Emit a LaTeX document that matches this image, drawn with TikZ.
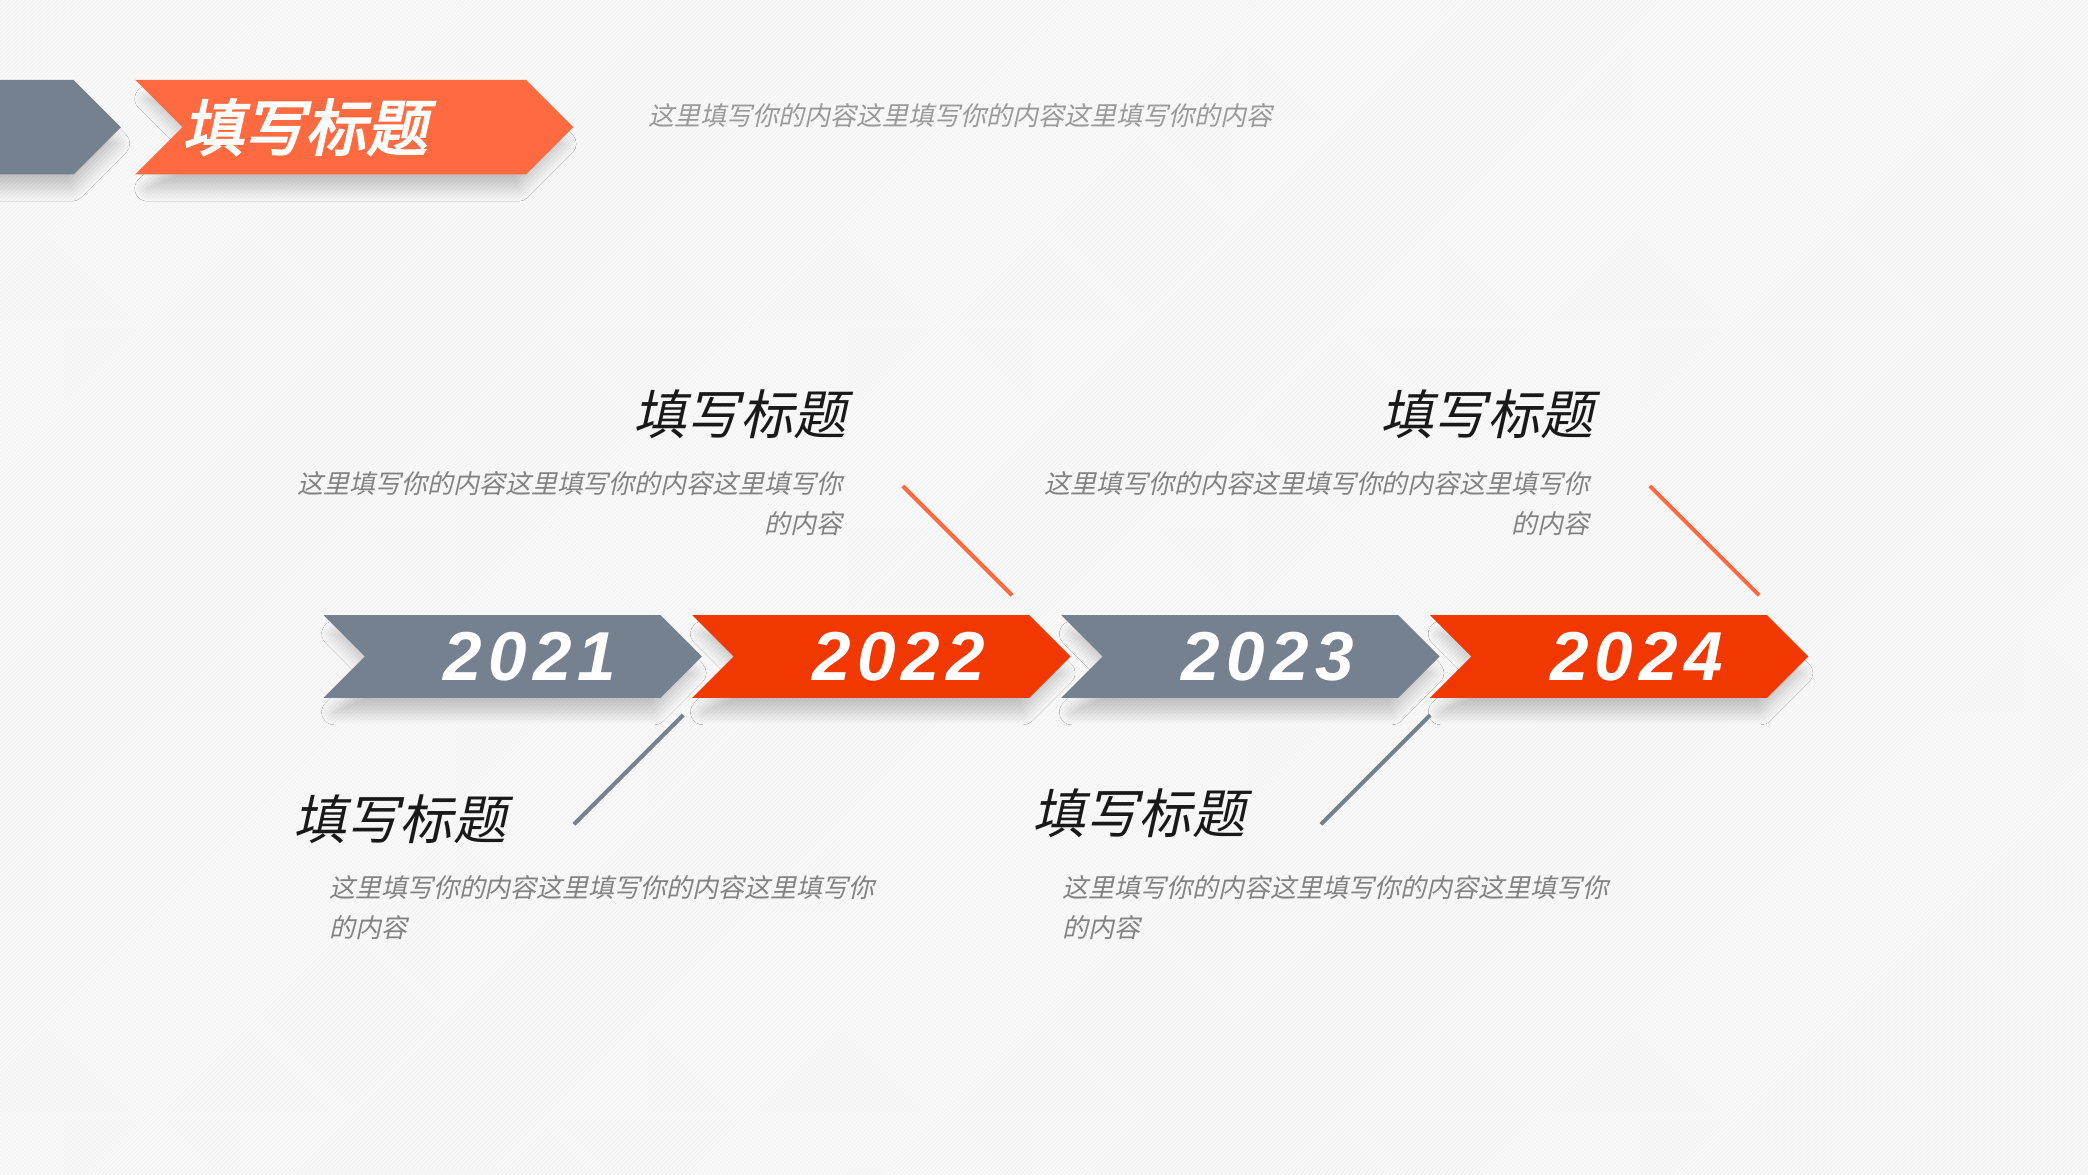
\documentclass[tikz,border=0pt]{standalone}
\usepackage{fontspec}
\setmainfont{Liberation Sans}
\newfontfamily\cjk[FakeSlant=0.22]{Noto Sans CJK SC}
\newfontfamily\cjkbold[FakeSlant=0.22,FakeBold=3]{Noto Sans CJK SC}
\newfontfamily\yearfont[LetterSpace=9]{Liberation Sans}
\usetikzlibrary{shapes.symbols,shadows.blur,patterns}
\definecolor{slate}{HTML}{75818F}
\definecolor{coral}{HTML}{FF6A40}
\definecolor{flame}{HTML}{F03800}
\definecolor{bgcol}{HTML}{F4F4F4}
\definecolor{blurbcol}{HTML}{828282}
\newcommand{\Heading}{填写标题}
\newcommand{\BlurbA}{这里填写你的内容这里填写你的内容这里填写你}
\newcommand{\BlurbB}{的内容}

\begin{document}
\begin{tikzpicture}[x=1pt,y=-1pt,
  chev/.style={signal, signal to=east, signal pointer angle=90,
    inner sep=0pt, text=white,
    blur shadow={shadow xshift=1pt, shadow yshift=-13pt, shadow scale=0.95,
      shadow blur radius=10pt, shadow blur steps=12, shadow opacity=22}},
  yearchev/.style={chev, signal from=west, minimum height=62pt,
    minimum width=284pt,
    font=\yearfont\fontsize{52}{52}\selectfont\bfseries\itshape},
  heading/.style={font=\cjk\fontsize{40}{40}\selectfont, text=black!90,
    inner sep=0pt},
  blurb/.style={font=\cjk\fontsize{19.5}{30}\selectfont, text=blurbcol,
    inner sep=0pt},
  tick/.style={line width=3pt}]
\useasboundingbox (0,0) rectangle (1568,882);
\fill[bgcol] (0,0) rectangle (1568,882);
\fill[pattern=north east lines, pattern color=white] (0,0) rectangle (1568,882);

% header
\node[chev, fill=slate, minimum height=71pt, minimum width=150pt] (head-0) at (-2,95.5) {};
\node[chev, signal from=west, fill=coral, minimum height=71pt,
  minimum width=328pt, font=\cjkbold\fontsize{46}{46}\selectfont] (head-1) at (266,95.5)
  {\Heading\hspace*{74pt}};
\node[blurb, text=black!40, anchor=west] (head-2) at (487,87)
  {这里填写你的内容这里填写你的内容这里填写你的内容};

% timeline
\node[yearchev, fill=slate] (y2021) at (385,493) {\hspace*{26pt}2021};
\node[yearchev, fill=flame] (y2022) at (662,493) {\hspace*{26pt}2022};
\node[yearchev, fill=slate] (y2023) at (939,493) {\hspace*{26pt}2023};
\node[yearchev, fill=flame] (y2024) at (1216,493) {\hspace*{26pt}2024};

% labels above
\node[heading, anchor=east] (title-2022) at (636,311) {\Heading};
\node[blurb, anchor=north east, align=right] (text-2022) at (633,354)
  {\BlurbA\\\BlurbB};
\node[heading, anchor=east] (title-2024) at (1197,311) {\Heading};
\node[blurb, anchor=north east, align=right] (text-2024) at (1194,354)
  {\BlurbA\\\BlurbB};

% labels below
\node[heading, anchor=west] (title-2021) at (220,615) {\Heading};
\node[blurb, anchor=north west, align=left] (text-2021) at (247,657)
  {\BlurbA\\\BlurbB};
\node[heading, anchor=west] (title-2023) at (775,611) {\Heading};
\node[blurb, anchor=north west, align=left] (text-2023) at (798,657)
  {\BlurbA\\\BlurbB};

\coordinate (a2022) at (678,365);
\coordinate (b2022) at (760,447);
\coordinate (a2024) at (1239,365);
\coordinate (b2024) at (1321,447);
\coordinate (a2021) at (513,537);
\coordinate (b2021) at (431,619);
\coordinate (a2023) at (1074,537);
\coordinate (b2023) at (992,619);

\draw[tick, coral] (a2022) -- (b2022);
\draw[tick, coral] (a2024) -- (b2024);
\draw[tick, slate] (a2021) -- (b2021);
\draw[tick, slate] (a2023) -- (b2023);
\end{tikzpicture}
\end{document}
